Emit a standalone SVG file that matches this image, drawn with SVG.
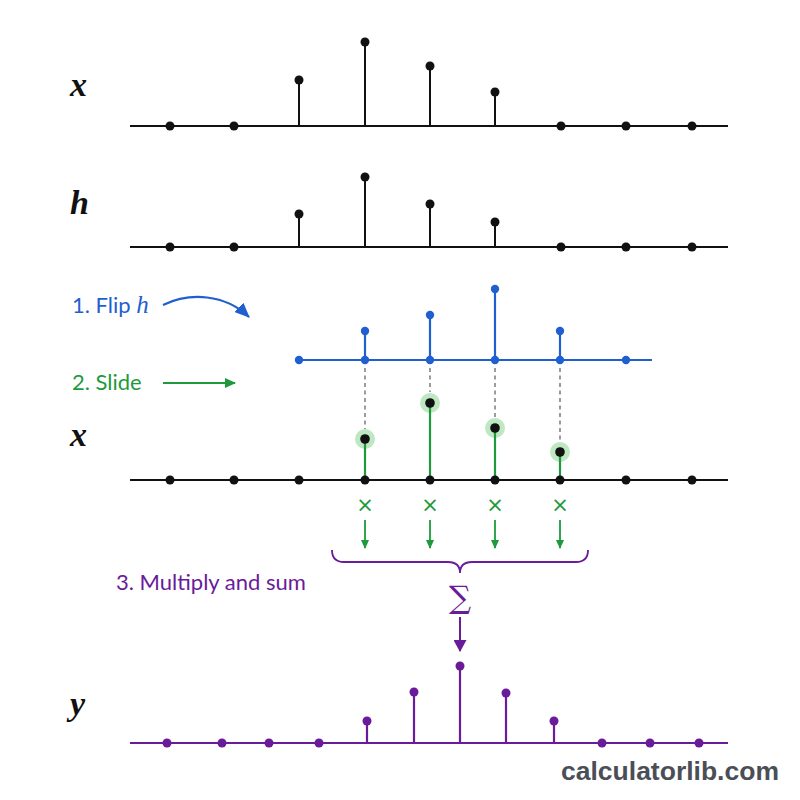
<svg xmlns="http://www.w3.org/2000/svg" width="800" height="800" viewBox="0 0 800 800">
<style>
.bg{fill:#ffffff}
.axk{stroke:#111;stroke-width:2.2}
.stk{stroke:#111;stroke-width:2}
.dk{fill:#111}
.axb{stroke:#1f5fd0;stroke-width:2.2}
.db{fill:#1f5fd0}
.stg{stroke:#1e9a3c;stroke-width:2.2}
.halo{fill:#a8e0ac;opacity:0.75}
.axp{stroke:#6a1b9a;stroke-width:2.2}
.dp{fill:#6a1b9a}
.dash{stroke:#666;stroke-width:1.3;stroke-dasharray:4 3.5}
.var{font-family:"Liberation Serif","DejaVu Serif",serif;font-style:italic;font-weight:bold;font-size:34px;fill:#111}
.lab{font-family:Lato,"Open Sans","Noto Sans",sans-serif;font-size:22px}
.wm{font-family:"Liberation Sans",Arial,sans-serif;font-weight:bold;font-size:26.5px;fill:#4a4f57}
</style>
<defs>
<marker id="ab" viewBox="0 0 15 13" refX="14" refY="6.5" markerWidth="15" markerHeight="13" orient="auto" markerUnits="userSpaceOnUse"><path d="M0,0 L15,6.5 L0,13 z" fill="#1f5fd0"/></marker>
<marker id="ag" viewBox="0 0 11 10" refX="10" refY="5" markerWidth="11" markerHeight="10" orient="auto" markerUnits="userSpaceOnUse"><path d="M0,0 L11,5 L0,10 z" fill="#1e9a3c"/></marker>
<marker id="ag2" viewBox="0 0 9 8" refX="8" refY="4" markerWidth="9" markerHeight="8" orient="auto" markerUnits="userSpaceOnUse"><path d="M0,0 L9,4 L0,8 z" fill="#1e9a3c"/></marker>
<marker id="ap" viewBox="0 0 12 13" refX="11" refY="6.5" markerWidth="12" markerHeight="13" orient="auto" markerUnits="userSpaceOnUse"><path d="M0,0 L12,6.5 L0,13 z" fill="#6a1b9a"/></marker>
</defs>
<rect class="bg" x="0" y="0" width="800" height="800"/>

<g id="plot-x">
<text class="var" x="70" y="96">x</text>
<line class="axk" x1="130" y1="126" x2="728" y2="126"/>
<line class="stk" x1="299" y1="126" x2="299" y2="80"/>
<line class="stk" x1="365" y1="126" x2="365" y2="42"/>
<line class="stk" x1="430" y1="126" x2="430" y2="66"/>
<line class="stk" x1="495" y1="126" x2="495" y2="92"/>
<g class="dk">
<circle cx="170" cy="126" r="4.5"/><circle cx="234" cy="126" r="4.5"/>
<circle cx="299" cy="80" r="4.5"/><circle cx="365" cy="42" r="4.5"/><circle cx="430" cy="66" r="4.5"/><circle cx="495" cy="92" r="4.5"/>
<circle cx="561" cy="126" r="4.5"/><circle cx="626" cy="126" r="4.5"/><circle cx="692" cy="126" r="4.5"/>
</g>
</g>

<g id="plot-h">
<text class="var" x="70" y="214">h</text>
<line class="axk" x1="130" y1="247" x2="728" y2="247"/>
<line class="stk" x1="299" y1="247" x2="299" y2="214"/>
<line class="stk" x1="365" y1="247" x2="365" y2="177"/>
<line class="stk" x1="430" y1="247" x2="430" y2="204"/>
<line class="stk" x1="495" y1="247" x2="495" y2="222"/>
<g class="dk">
<circle cx="170" cy="247" r="4.5"/><circle cx="234" cy="247" r="4.5"/>
<circle cx="299" cy="214" r="4.5"/><circle cx="365" cy="177" r="4.5"/><circle cx="430" cy="204" r="4.5"/><circle cx="495" cy="222" r="4.5"/>
<circle cx="561" cy="247" r="4.5"/><circle cx="626" cy="247" r="4.5"/><circle cx="692" cy="247" r="4.5"/>
</g>
</g>

<g id="flip-label">
<text class="lab" x="72" y="313" fill="#1f5fd0">1. Flip <tspan font-family="Liberation Serif,serif" font-style="italic" font-size="25px">h</tspan></text>
</g>

<g id="plot-hflip">
<line class="axb" x1="295" y1="360" x2="652" y2="360"/>
<line class="axb" x1="365" y1="360" x2="365" y2="331"/>
<line class="axb" x1="430" y1="360" x2="430" y2="315"/>
<line class="axb" x1="495" y1="360" x2="495" y2="289"/>
<line class="axb" x1="560" y1="360" x2="560" y2="331"/>
<g class="db">
<circle cx="299" cy="360" r="4.2"/><circle cx="365" cy="360" r="4.2"/><circle cx="430" cy="360" r="4.2"/><circle cx="495" cy="360" r="4.2"/><circle cx="560" cy="360" r="4.2"/><circle cx="626" cy="360" r="4.2"/>
<circle cx="365" cy="331" r="4.2"/><circle cx="430" cy="315" r="4.2"/><circle cx="495" cy="289" r="4.2"/><circle cx="560" cy="331" r="4.2"/>
</g>
</g>

<g id="slide-label">
<text class="lab" x="72" y="390" fill="#1e9a3c">2. Slide</text>
</g>

<g id="plot-x2">
<text class="var" x="70" y="446">x</text>
<g>
<circle class="halo" cx="365" cy="439" r="10"/><circle class="halo" cx="430" cy="403" r="10"/><circle class="halo" cx="495" cy="428" r="10"/><circle class="halo" cx="560" cy="452" r="10"/>
</g>
<line class="axk" x1="130" y1="480" x2="728" y2="480"/>
<line class="stg" x1="365" y1="480" x2="365" y2="439"/>
<line class="stg" x1="430" y1="480" x2="430" y2="403"/>
<line class="stg" x1="495" y1="480" x2="495" y2="428"/>
<line class="stg" x1="560" y1="480" x2="560" y2="452"/>
<g class="dk">
<circle cx="170" cy="480" r="4.5"/><circle cx="234" cy="480" r="4.5"/><circle cx="299" cy="480" r="4.5"/>
<circle cx="365" cy="480" r="4.5"/><circle cx="430" cy="480" r="4.5"/><circle cx="495" cy="480" r="4.5"/><circle cx="560" cy="480" r="4.5"/>
<circle cx="626" cy="480" r="4.5"/><circle cx="692" cy="480" r="4.5"/>
<circle cx="365" cy="439" r="4.8"/><circle cx="430" cy="403" r="4.8"/><circle cx="495" cy="428" r="4.8"/><circle cx="560" cy="452" r="4.8"/>
</g>
</g>

<g id="multiply">
<g font-family="'DejaVu Sans',sans-serif" font-size="21px" fill="#1e9a3c" text-anchor="middle">
<text x="365" y="512">×</text><text x="430" y="512">×</text><text x="495" y="512">×</text><text x="560" y="512">×</text>
</g>
</g>

<g id="sum-label">
<text class="lab" x="116" y="590" fill="#6a1b9a">3. Multiply and sum</text>
<text x="460" y="608" text-anchor="middle" font-family="'DejaVu Serif',serif" font-size="31px" fill="#6a1b9a">∑</text>
</g>

<g id="plot-y">
<text class="var" x="70" y="715">y</text>
<line class="axp" x1="130" y1="743" x2="728" y2="743"/>
<line class="axp" x1="367" y1="743" x2="367" y2="721"/>
<line class="axp" x1="414" y1="743" x2="414" y2="692"/>
<line class="axp" x1="460" y1="743" x2="460" y2="666"/>
<line class="axp" x1="506" y1="743" x2="506" y2="693"/>
<line class="axp" x1="554" y1="743" x2="554" y2="721"/>
<g class="dp">
<circle cx="167" cy="743" r="4.5"/><circle cx="222" cy="743" r="4.5"/><circle cx="269" cy="743" r="4.5"/><circle cx="319" cy="743" r="4.5"/>
<circle cx="367" cy="721" r="4.5"/><circle cx="414" cy="692" r="4.5"/><circle cx="460" cy="666" r="4.5"/><circle cx="506" cy="693" r="4.5"/><circle cx="554" cy="721" r="4.5"/>
<circle cx="602" cy="743" r="4.5"/><circle cx="650" cy="743" r="4.5"/><circle cx="699" cy="743" r="4.5"/>
</g>
</g>

<g id="connectors" fill="none">
<path d="M163,305 C190,292 225,294 249,317" stroke="#1f5fd0" stroke-width="2.2" marker-end="url(#ab)"/>
<line x1="163" y1="383" x2="235" y2="383" stroke="#1e9a3c" stroke-width="2" marker-end="url(#ag)"/>
<line class="dash" x1="365" y1="368" x2="365" y2="429"/>
<line class="dash" x1="430" y1="368" x2="430" y2="392"/>
<line class="dash" x1="495" y1="368" x2="495" y2="417"/>
<line class="dash" x1="560" y1="368" x2="560" y2="441"/>
<g stroke="#1e9a3c" stroke-width="1.8">
<line x1="365" y1="520" x2="365" y2="548" marker-end="url(#ag2)"/>
<line x1="430" y1="520" x2="430" y2="548" marker-end="url(#ag2)"/>
<line x1="495" y1="520" x2="495" y2="548" marker-end="url(#ag2)"/>
<line x1="560" y1="520" x2="560" y2="548" marker-end="url(#ag2)"/>
</g>
<path d="M332,550 Q332,562 344,562 L448,562 Q460,562 460,573 Q460,562 472,562 L576,562 Q588,562 588,550" stroke="#6a1b9a" stroke-width="1.8"/>
<line x1="460" y1="617" x2="460" y2="651" stroke="#6a1b9a" stroke-width="2" marker-end="url(#ap)"/>
</g>

<text class="wm" x="561" y="780">calculatorlib.com</text>
</svg>
